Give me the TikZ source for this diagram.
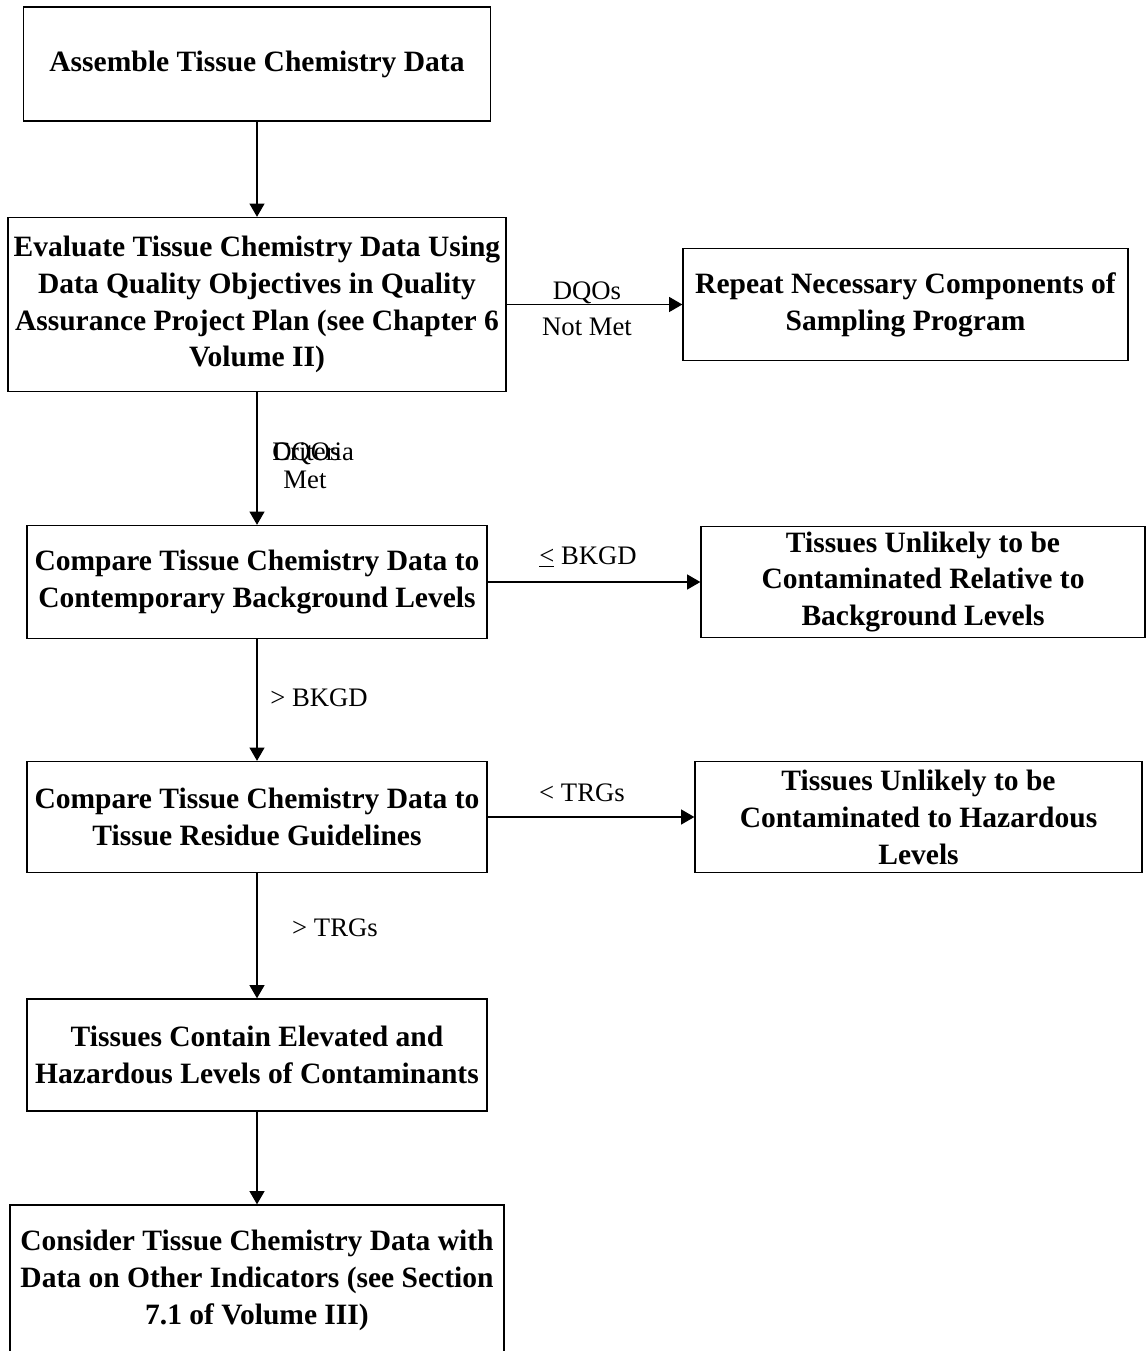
\documentclass[tikz,border=0pt]{standalone}
\usepackage{fontspec}
\setmainfont{Liberation Serif}
\usetikzlibrary{arrows.meta}
\tikzset{
  flowbox/.style={draw, line width=0.8pt, align=center, inner sep=0pt,
    font=\fontsize{16.8}{21}\selectfont\bfseries},
  edgelabel/.style={inner sep=0pt, font=\fontsize{15.2}{19}\selectfont},
  flowarrow/.style={line width=0.7pt, -{Triangle[length=7.5pt,width=8.5pt]}}
}

\begin{document}
\begin{tikzpicture}[x=0.02cm, y=-0.02cm]
    \useasboundingbox (0,0) rectangle (1148,1351);

    \node[flowbox, minimum width=9.34cm, minimum height=2.28cm] (assemble) at (257,64) {Assemble Tissue Chemistry Data};
    \node[flowbox, minimum width=9.96cm, minimum height=3.48cm] (evaluate) at (257,304.5) {Evaluate Tissue Chemistry Data Using\\Data Quality Objectives in Quality\\Assurance Project Plan (see Chapter 6\\Volume II)};
    \node[flowbox, minimum width=8.9cm, minimum height=2.24cm] (repeat) at (905.5,304.5) {Repeat Necessary Components of\\Sampling Program};
    \node[flowbox, minimum width=9.2cm, minimum height=2.26cm] (cmpbkgd) at (257,582) {Compare Tissue Chemistry Data to\\Contemporary Background Levels};
    \node[flowbox, minimum width=8.88cm, minimum height=2.22cm] (okbkgd) at (923,582) {Tissues Unlikely to be\\Contaminated Relative to\\Background Levels};
    \node[flowbox, minimum width=9.2cm, minimum height=2.22cm] (cmptrg) at (257,817) {Compare Tissue Chemistry Data to\\Tissue Residue Guidelines};
    \node[flowbox, minimum width=8.94cm, minimum height=2.22cm] (oktrg) at (918.5,817) {Tissues Unlikely to be\\Contaminated to Hazardous\\Levels};
    \node[flowbox, minimum width=9.2cm, minimum height=2.24cm] (elevated) at (257,1055) {Tissues Contain Elevated and\\Hazardous Levels of Contaminants};
    \node[flowbox, minimum width=9.88cm, minimum height=3.0cm] (consider) at (257,1280) {Consider Tissue Chemistry Data with\\Data on Other Indicators (see Section\\7.1 of Volume III)};

    \draw[flowarrow] (assemble) -- (evaluate);
    \draw[flowarrow] (evaluate) -- (repeat);
    \draw[flowarrow] (evaluate) -- (cmpbkgd);
    \draw[flowarrow] (cmpbkgd) -- (okbkgd);
    \draw[flowarrow] (cmpbkgd) -- (cmptrg);
    \draw[flowarrow] (cmptrg) -- (oktrg);
    \draw[flowarrow] (cmptrg) -- (elevated);
    \draw[flowarrow] (elevated) -- (consider);

    \node[edgelabel] (notmettop) at (587,293) {DQOs};
    \node[edgelabel] (notmet) at (587,327) {Not Met};
    \node[edgelabel, anchor=base west] (dqos) at (272,460) {DQOs};
    \node[edgelabel, anchor=base west] (criteria) at (272,460) {Criteria};
    \node[edgelabel, anchor=base] (met) at (305,488) {Met};
    \node[edgelabel] (lebkgd) at (588,557) {\underline{<} BKGD};
    \node[edgelabel] (gtbkgd) at (319,698) {> BKGD};
    \node[edgelabel] (lttrg) at (582,793) {< TRGs};
    \node[edgelabel] (gttrg) at (335,928) {> TRGs};
\end{tikzpicture}
\end{document}
